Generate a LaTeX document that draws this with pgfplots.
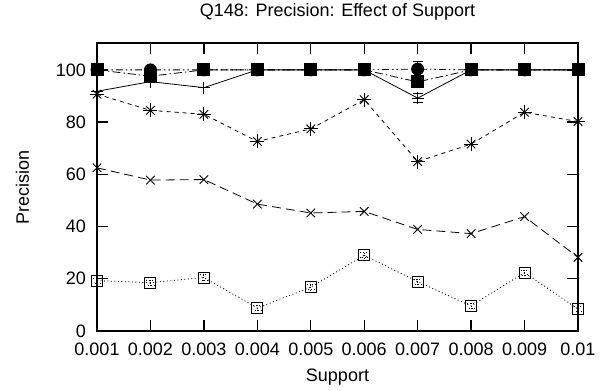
\documentclass[border=0pt]{standalone}
\usepackage{fontspec}
\setmainfont{Liberation Sans}
\usepackage{pgfplots}
\pgfplotsset{compat=1.18}
\begin{document}
\fontsize{18bp}{21bp}\selectfont
\begin{tikzpicture}
\useasboundingbox (-97bp,-60bp) rectangle (510bp,331bp);
\begin{axis}[
  at={(0,0)}, anchor=south west,
  scale only axis, width=481bp, height=288bp,
  xmin=0.001, xmax=0.01, ymin=0, ymax=110.3,
  scaled x ticks=false, scaled y ticks=false,
  xtick={0.001,0.002,0.003,0.004,0.005,0.006,0.007,0.008,0.009,0.01},
  xticklabels={0.001,0.002,0.003,0.004,0.005,0.006,0.007,0.008,0.009,0.01},
  ytick={0,20,40,60,80,100},
  yticklabels={0,20,40,60,80,100},
  /pgf/number format/assume math mode=true,
  tick align=inside, major tick length=11bp,
  every tick/.style={black, line width=1.3bp},
  axis line style={line width=1.6bp},
  xticklabel style={inner sep=0pt, anchor=north, yshift=-12bp},
  yticklabel style={inner sep=0pt, anchor=east, xshift=-11bp},
  title={Q148: Precision: Effect of Support},
  title style={at={(axis description cs:0.5,1.0729)}, anchor=base, inner sep=0pt},
  xlabel={Support},
  xlabel style={at={(axis description cs:0.5,-0.177)}, anchor=base, inner sep=0pt},
  ylabel={Precision},
  ylabel style={at={(axis description cs:-0.155,0.5)}, anchor=center, inner sep=0pt},
  clip=false,
  every axis plot/.append style={black, line width=0.8bp, mark options={solid, line width=0.9bp}},
]
% filled circles
\addplot[dash pattern=on 7bp off 3bp on 1.5bp off 3bp on 1.5bp off 3bp, mark=*, mark size=6bp,
  error bars/.cd, y dir=both, y explicit, error bar style={solid, line width=0.8bp}, error mark options={rotate=90, mark size=5bp, line width=0.8bp}]
  coordinates {(0.001,100) +- (0,0) (0.002,100) +- (0,0) (0.003,100) +- (0,0) (0.004,100) +- (0,0) (0.005,100) +- (0,0)
   (0.006,100) +- (0,0) (0.007,100.3) +- (0,2.9) (0.008,100) +- (0,0) (0.009,100) +- (0,0) (0.01,100) +- (0,0)};
% plus, solid
\addplot[solid, mark=+, mark size=6bp,
  error bars/.cd, y dir=both, y explicit, error bar style={solid, line width=0.8bp}, error mark options={rotate=90, mark size=5bp, line width=0.8bp}]
  coordinates {(0.001,91.8) +- (0,0) (0.002,95.5) +- (0,0) (0.003,93.2) +- (0,0) (0.004,100) +- (0,0) (0.005,100) +- (0,0)
   (0.006,100) +- (0,0) (0.007,89.2) +- (0,1.7) (0.008,100) +- (0,0) (0.009,100) +- (0,0) (0.01,100) +- (0,0)};
% filled squares
\addplot[dash pattern=on 8bp off 3bp on 1.5bp off 3bp, mark=square*, mark size=6bp]
  coordinates {(0.001,100) (0.002,97.6) (0.003,100) (0.004,100) (0.005,100)
   (0.006,100) (0.007,95.4) (0.008,100) (0.009,100) (0.01,100)};
% asterisks
\addplot[dash pattern=on 4bp off 4bp, mark=x, mark size=6bp]
  coordinates {(0.001,90.7) (0.002,84.5) (0.003,83) (0.004,72.6) (0.005,77.4)
   (0.006,88.6) (0.007,64.9) (0.008,71.6) (0.009,83.8) (0.01,80.2)};
\addplot[only marks, mark=+, mark size=7bp]
  coordinates {(0.001,90.7) (0.002,84.5) (0.003,83) (0.004,72.6) (0.005,77.4)
   (0.006,88.6) (0.007,64.9) (0.008,71.6) (0.009,83.8) (0.01,80.2)};
% crosses
\addplot[dash pattern=on 9bp off 5bp, mark=x, mark size=6bp]
  coordinates {(0.001,62.5) (0.002,57.8) (0.003,58) (0.004,48.6) (0.005,45.2)
   (0.006,45.8) (0.007,38.9) (0.008,37.3) (0.009,43.8) (0.01,28.2)};
% open squares
\addplot[dash pattern=on 1bp off 2.5bp, mark=square, mark size=5.5bp,
  error bars/.cd, y dir=both, y explicit, error bar style={dotted, line width=0.8bp}, error mark options={rotate=90, mark size=4bp, dotted, line width=0.8bp}]
  coordinates {(0.001,19.3) +- (0,1) (0.002,18.5) +- (0,1) (0.003,20.5) +- (0,1) (0.004,8.8) +- (0,1) (0.005,16.8) +- (0,1)
   (0.006,29) +- (0,1) (0.007,18.9) +- (0,1) (0.008,9.6) +- (0,1) (0.009,22.4) +- (0,1) (0.01,8.4) +- (0,1)};
\end{axis}
\end{tikzpicture}
\end{document}
